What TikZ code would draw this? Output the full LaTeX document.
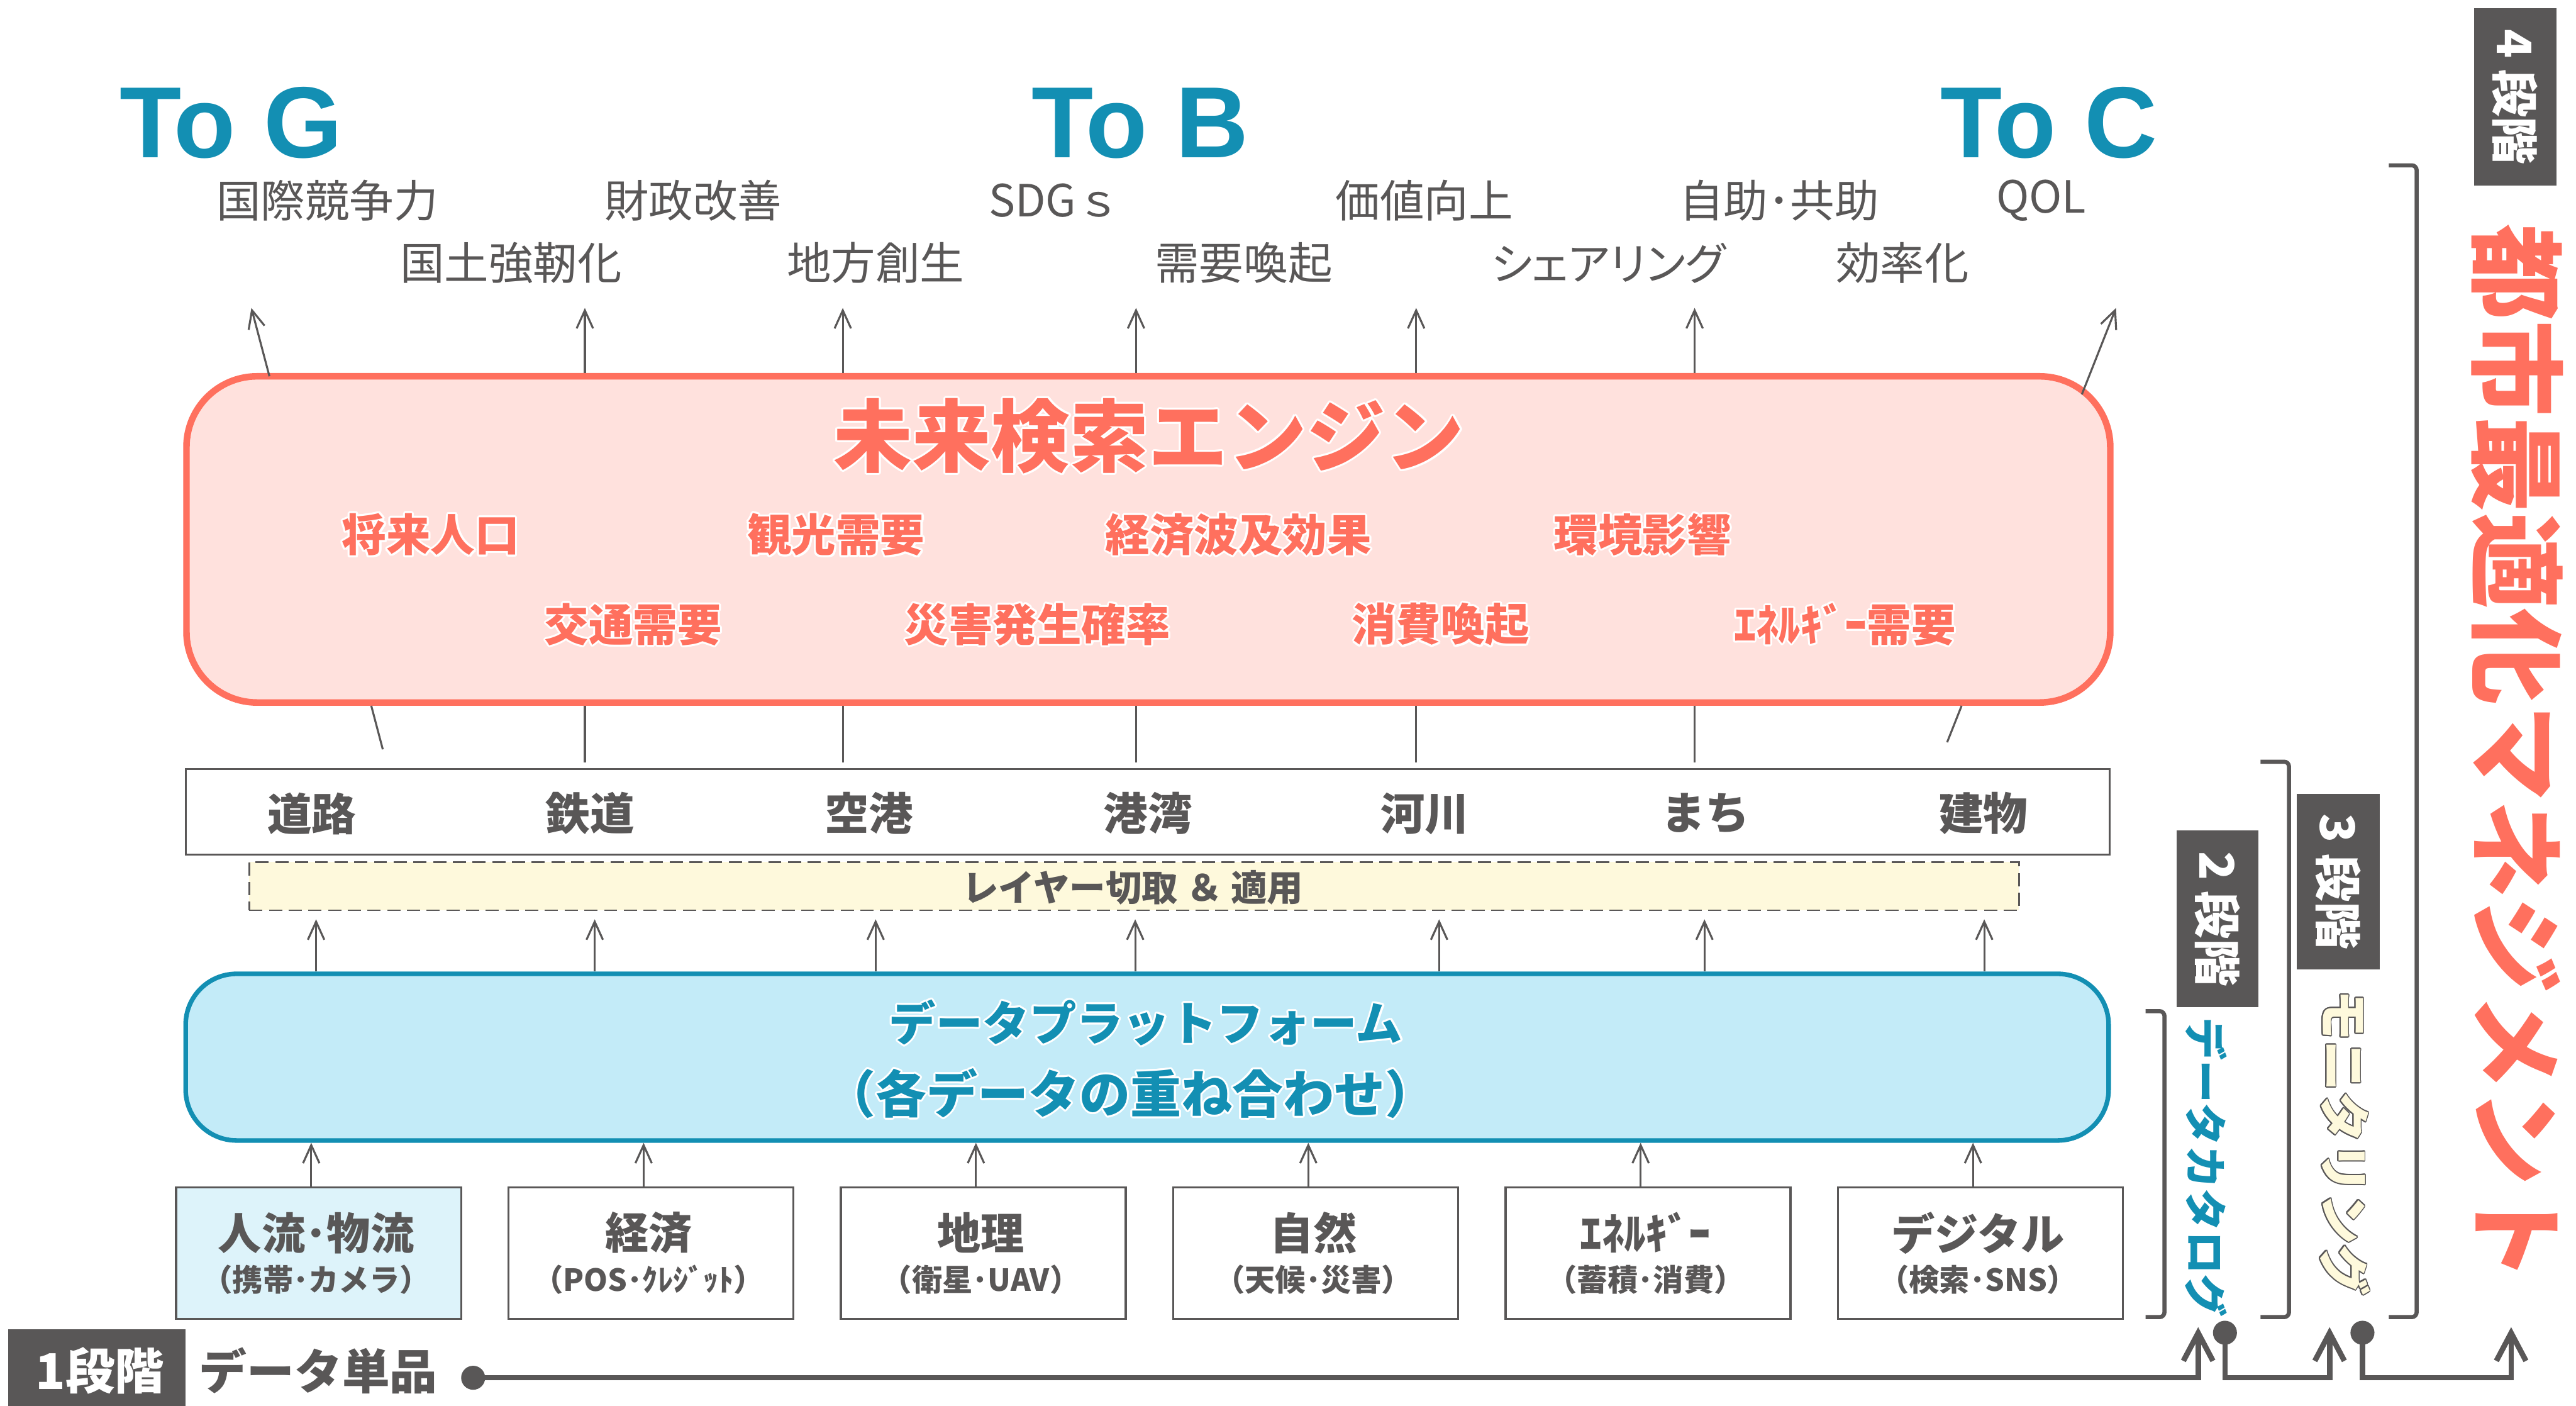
\documentclass[tikz,border=0pt]{standalone}
\usepackage{fontspec}
\setmainfont{Noto Sans CJK JP}
\newfontfamily\latf{Liberation Sans}
\usepackage[copies]{contour}
\contourlength{1.2pt}
\usetikzlibrary{arrows.meta}
\definecolor{tg}{HTML}{595757}
\definecolor{tealc}{HTML}{138FB3}
\definecolor{coralc}{HTML}{FF705E}
\definecolor{pinkf}{HTML}{FFE1DD}
\definecolor{cyanf}{HTML}{C3EBF8}
\definecolor{cyanl}{HTML}{DDF3FA}
\definecolor{creamf}{HTML}{FEF9DC}
\newcommand\myfs[1]{\fontsize{#1}{#1}\selectfont}
\begin{document}
\begin{tikzpicture}[x=1pt,y=-1pt,
  ttl/.style={inner sep=0, text=tealc, font=\latf\bfseries\myfs{61.5}},
  lbl/.style={inner sep=0, text=tg, font=\myfs{27}},
  eitem/.style={inner sep=0, text=coralc, font=\bfseries\myfs{27}},
  laylbl/.style={inner sep=0, text=tg, font=\bfseries\myfs{27}},
  srcbox/.style={draw=tg, line width=1.3pt, fill=white, minimum width=173.5pt, minimum height=80pt, inner sep=0},
  srcmain/.style={inner sep=0, text=tg, font=\bfseries\myfs{26.5}},
  srcsub/.style={inner sep=0, text=tg, font=\bfseries\myfs{18.5}},
  arr/.style={draw=tg, line width=1.2pt, -{Straight Barb[length=11pt,width=10pt]}},
  ln/.style={draw=tg, line width=1.2pt},
  bigarr/.style={draw=tg, line width=3.3pt, -{Straight Barb[length=17pt,width=18pt]}},
  brk/.style={draw=tg, line width=2.5pt, rounded corners=3pt},
  dot/.style={circle, fill=tg, minimum size=14.6pt, inner sep=0},
  stg/.style={fill=tg, text=white, font=\bfseries\myfs{29}, rotate=-90, inner sep=0},
]
\fill[white] (0,0) rectangle (1568,855.5);
\useasboundingbox (0,0) rectangle (1568,855.5);

% titles
\node[ttl, anchor=base] (tog) at (140.7,96) {To G};
\node[ttl, anchor=base] (tob) at (694,96) {To B};
\node[ttl, anchor=base] (toc) at (1247.2,96) {To C};

% top labels
\node[lbl] (g1) at (199.2,122) {国際競争力};
\node[lbl] (g2) at (311,160) {国土強靭化};
\node[lbl] (g3) at (422,122) {財政改善};
\node[lbl] (g4) at (533,160) {地方創生};
\node[lbl] (b1) at (642,122) {SDGｓ};
\node[lbl] (b2) at (757,160) {需要喚起};
\node[lbl] (b3) at (867,122) {価値向上};
\node[lbl] (c1) at (979,160) {\addfontfeatures{RawFeature=+palt}シェアリング};
\node[lbl] (c2) at (1083,122) {自助･共助};
\node[lbl] (c3) at (1158,160) {効率化};
\node[lbl] (c4) at (1242.5,122) {QOL};

% engine
\node[draw=coralc, fill=pinkf, line width=4pt, rounded corners=43pt, minimum width=1171pt, minimum height=198.5pt, inner sep=0] (eng) at (699,328.25) {};
\node[inner sep=0, text=coralc, font=\bfseries\myfs{48}] (engt) at (699.3,266) {\contour{white}{未来検索エンジン}};
\node[eitem] (e1) at (262.2,326) {\contour{white}{将来人口}};
\node[eitem] (e2) at (508.9,326) {\contour{white}{観光需要}};
\node[eitem] (e3) at (753.8,326) {\contour{white}{経済波及効果}};
\node[eitem] (e4) at (999.8,326) {\contour{white}{環境影響}};
\node[eitem] (e5) at (385.4,380.6) {\contour{white}{交通需要}};
\node[eitem] (e6) at (631.4,380.6) {\contour{white}{災害発生確率}};
\node[eitem] (e7) at (877,380.6) {\contour{white}{消費喚起}};
\node[eitem] (e8) at (1122.9,380.6) {\contour{white}{ｴﾈﾙｷﾞｰ需要}};

% arrows up from engine and lines down to layer
\foreach \x/\n in {356/1,513/2,691.5/3,862/4,1031.5/5} {
  \coordinate (ut\n) at (\x,187.4);
  \coordinate (lt\n) at (\x,463.8);
  \draw[arr] (ut\n |- eng.north) -- (ut\n);
  \draw[ln] (ut\n |- eng.south) -- (lt\n);
}
\coordinate (ulb) at (164,229);
\coordinate (ult) at (153,187.4);
\draw[arr] (ulb) -- (ult);
\coordinate (urb) at (1267.2,240);
\coordinate (urt) at (1288,187.4);
\draw[arr] (urb) -- (urt);
\coordinate (llb) at (226,429.5);
\coordinate (llt) at (233,456);
\draw[ln] (llb) -- (llt);
\coordinate (lrb) at (1194,429.5);
\coordinate (lrt) at (1185.2,451.7);
\draw[ln] (lrb) -- (lrt);

% layer box
\node[draw=tg, line width=1.2pt, fill=white, minimum width=1171pt, minimum height=52pt, inner sep=0] (lay) at (698.5,494) {};
\node[laylbl] (l1) at (189.7,495) {道路};
\node[laylbl] (l2) at (359.2,495) {鉄道};
\node[laylbl] (l3) at (529,495) {空港};
\node[laylbl] (l4) at (698.8,495) {港湾};
\node[laylbl] (l5) at (867.4,495) {河川};
\node[laylbl] (l6) at (1038,495) {まち};
\node[laylbl] (l7) at (1207.2,495) {建物};

% dashed box
\node[draw=tg, dash pattern=on 8pt off 4pt, line width=1pt, fill=creamf, minimum width=1077.3pt, minimum height=29.3pt, inner sep=0] (dsh) at (690.35,539.25) {};
\node[inner sep=0, text=tg, font=\bfseries\myfs{22}] (dsht) at (689.5,540) {レイヤー切取 ＆ 適用};

% platform
\node[draw=tealc, fill=cyanf, line width=2.8pt, rounded corners=31pt, minimum width=1170.5pt, minimum height=101.4pt, inner sep=0] (pf) at (698.25,643.3) {};
\node[inner sep=0, text=tealc, font=\bfseries\myfs{28.5}] (pt1) at (697.5,623) {\contour{white}{データプラットフォーム}};
\node[inner sep=0, text=tealc, font=\bfseries\myfs{31}] (pt2) at (688,666) {\contour{white}{（各データの重ね合わせ）}};

% arrows platform -> dashed
\foreach \x/\n in {192.4/1,362/2,533/3,691/4,876/5,1037.5/6,1207.8/7} {
  \coordinate (mt\n) at (\x,559.4);
  \draw[arr] (mt\n |- pf.north) -- (mt\n);
}

% source boxes
\node[srcbox, fill=cyanl] (s1) at (193.95,762.5) {};
\node[srcbox] (s2) at (396.25,762.5) {};
\node[srcbox] (s3) at (598.55,762.5) {};
\node[srcbox] (s4) at (800.85,762.5) {};
\node[srcbox] (s5) at (1003.15,762.5) {};
\node[srcbox] (s6) at (1205.45,762.5) {};
\node[srcmain] (s1m) at (192.4,750.2) {人流･物流};
\node[srcsub]  (s1s) at (192.4,778.6) {（携帯･カメラ）};
\node[srcmain] (s2m) at (394.8,750.2) {経済};
\node[srcsub]  (s2s) at (394.8,778.6) {（POS･ｸﾚｼﾞｯﾄ）};
\node[srcmain] (s3m) at (597,750.2) {地理};
\node[srcsub]  (s3s) at (597,778.6) {（衛星･UAV）};
\node[srcmain] (s4m) at (799.4,750.2) {自然};
\node[srcsub]  (s4s) at (799.4,778.6) {（天候･災害）};
\node[srcmain] (s5m) at (1001.7,750.2) {ｴﾈﾙｷﾞｰ};
\node[srcsub]  (s5s) at (1001.7,778.6) {（蓄積･消費）};
\node[srcmain] (s6m) at (1204,750.2) {デジタル};
\node[srcsub]  (s6s) at (1204,778.6) {（検索･SNS）};
\foreach \n in {1,...,6} {
  \coordinate (sa\n) at ([xshift=-4.5pt]s\n.north);
  \draw[arr] (sa\n) -- (sa\n |- pf.south);
}

% stage 1
\node[fill=tg, minimum width=108pt, minimum height=47pt, inner sep=0] (st1) at (59,832.25) {};
\node[inner sep=0, text=white, font=\bfseries\myfs{30}] (st1t) at (60.7,834) {1段階};
\node[inner sep=0, text=tg, font=\bfseries\myfs{29}] (dt) at (193.8,834) {データ単品};

% brackets
\draw[brk] (1306,615.3) -- (1317.5,615.3) -- (1317.5,801.5) -- (1306,801.5);
\draw[brk] (1376,463.5) -- (1393.3,463.5) -- (1393.3,801.5) -- (1376,801.5);
\draw[brk] (1454,100.6) -- (1471,100.6) -- (1471,801.5) -- (1454,801.5);

% stage labels
\node[stg, minimum width=107.3pt, minimum height=49.5pt] (st2) at (1349.8,559.15) {2 段階};
\node[stg, minimum width=107pt, minimum height=50.5pt] (st3) at (1423.25,536.5) {3 段階};
\node[stg, minimum width=108pt, minimum height=50pt] (st4) at (1531,59) {4 段階};

% vertical texts
\node[rotate=-90, inner sep=0, text=tealc, font=\bfseries\myfs{26}] (v2) at (1343,710.3) {データカタログ};
\node[rotate=-90, inner sep=0, text=creamf, font=\bfseries\myfs{31}] (v3) at (1427,695.3) {\contourlength{0.7pt}\contour{tg}{モニタリング}};
\node[rotate=-90, inner sep=0, text=coralc, font=\bfseries\myfs{58.5}] (v4) at (1531.5,458.3) {\contour{white}{都市最適化マネジメント}};

% bottom connectors
\node[dot] (d1) at (288,838.4) {};
\node[dot] (d2) at (1354.3,811) {};
\node[dot] (d3) at (1438,811) {};
\coordinate (t1) at (1338,807.6);
\coordinate (t2) at (1418,807.6);
\coordinate (t3) at (1528.5,807.6);
\draw[bigarr] (d1.center) -- (d1.center -| t1) -- (t1);
\draw[bigarr] (d2.center) -- (d2.center |- d1.center) -- (t2 |- d1.center) -- (t2);
\draw[bigarr] (d3.center) -- (d3.center |- d1.center) -- (t3 |- d1.center) -- (t3);
\end{tikzpicture}
\end{document}
